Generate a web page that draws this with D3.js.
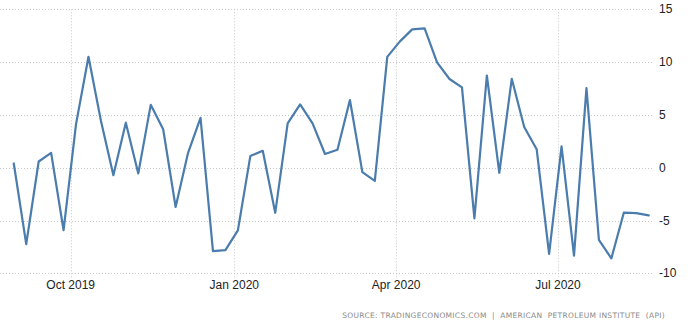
<!DOCTYPE html>
<html><head><meta charset="utf-8">
<script src="https://cdn.jsdelivr.net/npm/d3@7"></script>
<style>
html,body{margin:0;padding:0;background:#fff;}
svg{display:block;}
</style></head>
<body>
<svg id="chart" width="694" height="328"></svg>
<script>
const dates = [
"2019-08-30","2019-09-06","2019-09-13","2019-09-20","2019-09-27","2019-10-04","2019-10-11","2019-10-18",
"2019-10-25","2019-11-01","2019-11-08","2019-11-15","2019-11-22","2019-11-29","2019-12-06","2019-12-13",
"2019-12-20","2019-12-27","2020-01-03","2020-01-10","2020-01-17","2020-01-24","2020-01-31","2020-02-07",
"2020-02-14","2020-02-21","2020-02-28","2020-03-06","2020-03-13","2020-03-20","2020-03-27","2020-04-03",
"2020-04-10","2020-04-17","2020-04-24","2020-05-01","2020-05-08","2020-05-15","2020-05-22","2020-05-29",
"2020-06-05","2020-06-12","2020-06-19","2020-06-26","2020-07-03","2020-07-10","2020-07-17","2020-07-24",
"2020-07-31","2020-08-07","2020-08-14","2020-08-21"];
const values = [
0.40,-7.23,0.59,1.40,-5.92,4.13,10.50,4.45,
-0.71,4.26,-0.54,5.95,3.64,-3.72,1.41,4.72,
-7.90,-7.80,-5.94,1.10,1.60,-4.27,4.20,6.00,
4.20,1.30,1.70,6.41,-0.42,-1.25,10.49,11.94,
13.10,13.20,9.98,8.40,7.60,-4.80,8.73,-0.48,
8.42,3.86,1.75,-8.16,2.03,-8.32,7.54,-6.83,
-8.59,-4.26,-4.30,-4.52];
const yTicks = [-10,-5,0,5,10,15];
const xTicks = ["2019-10-01","2020-01-01","2020-04-01","2020-07-01"];
const xTickLabels = ["Oct 2019","Jan 2020","Apr 2020","Jul 2020"];
const xDomain = ["2019-08-22T06:00:00Z","2020-08-23T10:00:00Z"];
const sourceText = "SOURCE: TRADINGECONOMICS.COM  |  AMERICAN  PETROLEUM INSTITUTE  (API)";

(function(){
const parse = d3.utcParse("%Y-%m-%d");
const data = dates.map((d,i)=>({date:parse(d), value:values[i]}));

const svg = d3.select("#chart");
const pl = 0, pr = 653, pt = 9.3, pb = 273.3;

const x = d3.scaleUtc()
  .domain(xDomain.map(d=>d3.isoParse(d)))
  .range([pl, pr]);
const y = d3.scaleLinear().domain([-10,15]).range([pb, pt]);

svg.append("g").selectAll("line").data(yTicks).join("line")
  .attr("x1", pl).attr("x2", pr)
  .attr("y1", d=>Math.round(y(d))+0.5).attr("y2", d=>Math.round(y(d))+0.5)
  .attr("stroke","#c8c8c8").attr("stroke-width",1).attr("stroke-dasharray","1,2");

svg.append("g").selectAll("line").data(xTicks).join("line")
  .attr("x1", d=>Math.round(x(parse(d)))+0.5).attr("x2", d=>Math.round(x(parse(d)))+0.5)
  .attr("y1", pt).attr("y2", pb+4)
  .attr("stroke","#c8c8c8").attr("stroke-width",1).attr("stroke-dasharray","1,2");

svg.append("g").selectAll("text").data(yTicks).join("text")
  .attr("x", 659).attr("y", d=>y(d)+4)
  .attr("font-family","Liberation Sans, Arial, sans-serif").attr("font-size",12)
  .attr("fill","#222").text(d=>d);

svg.append("g").selectAll("text").data(xTicks).join("text")
  .attr("x", d=>x(parse(d))).attr("y", 289)
  .attr("text-anchor","middle")
  .attr("font-family","Liberation Sans, Arial, sans-serif").attr("font-size",12)
  .attr("fill","#222").text((d,i)=>xTickLabels[i]);

const line = d3.line().x(d=>x(d.date)).y(d=>y(d.value));
svg.append("path").datum(data)
  .attr("d", line).attr("fill","none")
  .attr("stroke","#4a7cad").attr("stroke-width",2.2)
  .attr("stroke-linejoin","round").attr("stroke-linecap","round");

svg.append("text").attr("x", 665).attr("y", 318)
  .attr("text-anchor","end")
  .attr("font-family","DejaVu Sans, sans-serif").attr("font-size",7.5)
  .attr("letter-spacing","0.3")
  .style("white-space","pre")
  .attr("fill","#8a8a8a").text(sourceText);
})();
</script>
</body></html>
